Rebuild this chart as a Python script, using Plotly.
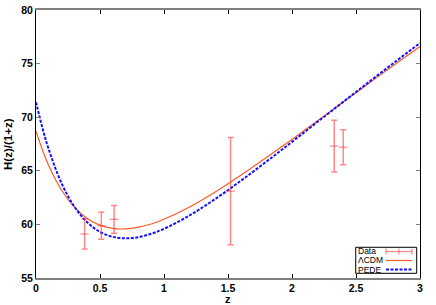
import plotly.graph_objects as go

z_data = [0.38, 0.51, 0.61, 1.52, 2.33, 2.40]
h_data = [59.1, 59.87, 60.47, 63.1, 67.3, 67.2]
h_err = [1.4, 1.26, 1.3, 5.0, 2.42, 1.63]

# Model curves
z_curve = [0.0, 0.05, 0.1, 0.2, 0.3, 0.4, 0.5, 0.6, 0.7, 0.8, 0.9, 1.0,
           1.2, 1.4, 1.6, 1.8, 2.0, 2.2, 2.4, 2.6, 2.8, 3.0]
h_lcdm = [68.70, 66.96, 65.48, 63.19, 61.61, 60.56, 59.93, 59.63, 59.58, 59.74,
          60.04, 60.48, 61.62, 63.02, 64.58, 66.23, 67.93, 69.66, 71.42, 73.16,
          74.90, 76.60]
h_pede = [71.40, 69.01, 66.98, 63.83, 61.65, 60.20, 59.30, 58.84, 58.70, 58.81,
          59.13, 59.59, 60.84, 62.37, 64.07, 65.86, 67.70, 69.57, 71.43, 73.28,
          75.11, 76.92]

x_ticks = [0, 0.5, 1, 1.5, 2, 2.5, 3]
x_labels = ["0", "0.5", "1", "1.5", "2", "2.5", "3"]
y_ticks = [55, 60, 65, 70, 75, 80]

ERR_COLOR = "rgba(255,40,40,0.55)"
LCDM_COLOR = "#ff5a28"
PEDE_COLOR = "#1010ff"

fig = go.Figure()
fig.add_trace(go.Scatter(
    x=z_curve, y=h_lcdm, mode="lines", name="ΛCDM",
    line=dict(color=LCDM_COLOR, width=1.2, shape="spline"), showlegend=False))
fig.add_trace(go.Scatter(
    x=z_curve, y=h_pede, mode="lines", name="PEDE",
    line=dict(color=PEDE_COLOR, width=2, dash="3px,1.5px", shape="spline"), showlegend=False))
fig.add_trace(go.Scatter(
    x=z_data, y=h_data, mode="markers", name="Data",
    marker=dict(symbol="line-ew-open", size=6, color=ERR_COLOR, line=dict(color=ERR_COLOR, width=1.2)),
    error_y=dict(type="data", array=h_err, visible=True, color=ERR_COLOR, thickness=1.5, width=3),
    showlegend=False))

font = "Liberation Sans, Arial, sans-serif"

# manual gnuplot-style legend (text left, sample right)
shapes = [dict(type="rect", xref="paper", yref="paper", x0=0.8326, x1=0.9914, y0=0.0175, y1=0.1146,
               line=dict(color="black", width=1), fillcolor="white", layer="above")]
ly = [0.0989, 0.0653, 0.0317]
lx0, lx1 = 0.9115, 0.979
shapes.append(dict(type="line", xref="paper", yref="paper", x0=lx0, x1=lx1, y0=ly[0], y1=ly[0],
                   line=dict(color=ERR_COLOR, width=1.2), layer="above"))
for xx in (lx0, (lx0 + lx1) / 2, lx1):
    shapes.append(dict(type="line", xref="paper", yref="paper", x0=xx, x1=xx, y0=ly[0] - 0.011, y1=ly[0] + 0.011,
                       line=dict(color=ERR_COLOR, width=1.2), layer="above"))
shapes.append(dict(type="line", xref="paper", yref="paper", x0=lx0, x1=lx1, y0=ly[1], y1=ly[1],
                   line=dict(color=LCDM_COLOR, width=1.2), layer="above"))
shapes.append(dict(type="line", xref="paper", yref="paper", x0=lx0, x1=lx1, y0=ly[2], y1=ly[2],
                   line=dict(color=PEDE_COLOR, width=2, dash="3px,1.5px"), layer="above"))

annotations = []
for txt, yy in zip(["Data", "ΛCDM", "PEDE"], ly):
    annotations.append(dict(text=txt, xref="paper", yref="paper", x=0.836, y=yy, xanchor="left",
                            yanchor="middle", showarrow=False, borderpad=0,
                            font=dict(family=font, size=8.5, color="black")))
# axis titles
annotations.append(dict(text="<b>H(z)/(1+z)</b>", xref="paper", yref="paper", x=-0.073, y=0.5,
                        xanchor="center", yanchor="middle", textangle=-90, showarrow=False,
                        borderpad=0, font=dict(family=font, size=11.5, color="black")))
annotations.append(dict(text="<b>z</b>", xref="paper", yref="paper", x=0.5, y=-0.08,
                        xanchor="center", yanchor="middle", showarrow=False, borderpad=0,
                        font=dict(family=font, size=11, color="black")))

fig.update_layout(
    width=436, height=305,
    margin=dict(l=36, r=16, t=10, b=27, autoexpand=False),
    paper_bgcolor="white", plot_bgcolor="white",
    font=dict(family=font, size=11, color="black"),
    shapes=shapes, annotations=annotations,
    xaxis=dict(range=[0, 3], tickvals=x_ticks, ticktext=x_labels, ticks="inside", ticklen=4,
               tickcolor="black", showline=True, linecolor="#808080", linewidth=1.5, mirror="ticks",
               showgrid=False, zeroline=False, automargin=False,
               tickfont=dict(family=font, size=10.5, color="black", weight="bold")),
    yaxis=dict(range=[55, 80], tickvals=y_ticks, ticks="inside", ticklen=4,
               tickcolor="#808080", showline=True, linecolor="black", linewidth=1, mirror="ticks",
               showgrid=False, zeroline=False, automargin=False,
               tickfont=dict(family=font, size=10.5, color="black", weight="bold")),
)

# remove the default 8px page margin so the figure sits at the window's corner
fig.write_html("out.html", config={"displayModeBar": False},
               post_script="document.body.style.margin='0';")
